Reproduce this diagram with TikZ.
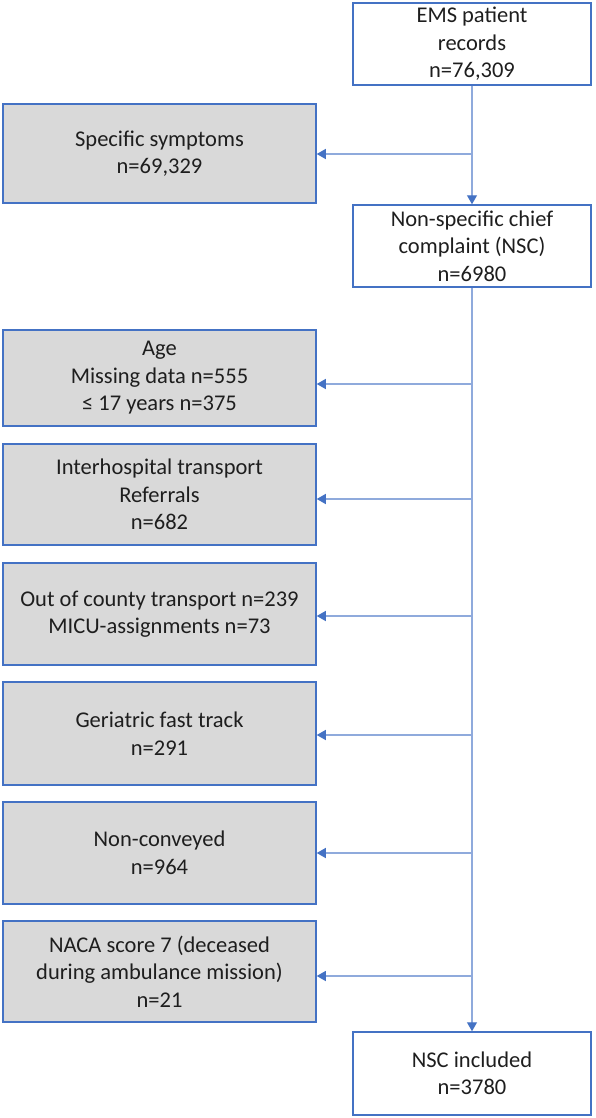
\documentclass[tikz,border=0pt]{standalone}
\usepackage{fontspec}
\setmainfont{Carlito}
\usetikzlibrary{arrows.meta}
\definecolor{boxblue}{RGB}{68,114,196}
\definecolor{lineblue}{RGB}{143,170,220}
\definecolor{boxgray}{RGB}{217,217,217}
\definecolor{textgray}{RGB}{30,30,30}
\tikzset{
	stagebox/.style={draw=boxblue, line width=1.5pt, align=center, inner sep=0pt,
		minimum width=238pt, text=textgray, font=\fontsize{22.5}{27.5}\selectfont},
	exclbox/.style={stagebox, fill=boxgray, minimum width=313pt},
	flow/.style={draw=lineblue, line width=1.2pt, -{Triangle[length=9pt,width=10pt,color=boxblue]}}
}
\begin{document}
\begin{tikzpicture}[x=1pt,y=-1pt]
	%
	\def\trunk{472}
	\def\exclx{159.5}
	\useasboundingbox (0,0) rectangle (596,1118);
	% main stages
		\node[stagebox, minimum height=82pt] (ems) at (\trunk,44) {EMS patient\\records\\n=76,309};
		\node[stagebox, minimum height=82pt] (nsc) at (\trunk,246) {Non-specific chief\\complaint (NSC)\\n=6980};
		\node[stagebox, minimum height=83pt] (incl) at (\trunk,1073.5) {NSC included\\n=3780};
	% exclusions
		\node[exclbox, minimum height=99pt] (spec) at (\exclx,153.5) {Specific symptoms\\n=69,329};
		\node[exclbox, minimum height=96pt] (age) at (\exclx,378) {Age\\Missing data n=555\\≤ 17 years n=375};
		\node[exclbox, minimum height=101pt] (inter) at (\exclx,494.5) {Interhospital transport\\Referrals\\n=682};
		\node[exclbox, minimum height=102pt] (county) at (\exclx,614) {Out of county transport n=239\\MICU-assignments n=73};
		\node[exclbox, minimum height=103pt] (geri) at (\exclx,733.5) {Geriatric fast track\\n=291};
		\node[exclbox, minimum height=102pt] (convey) at (\exclx,853) {Non-conveyed\\n=964};
		\node[exclbox, minimum height=101pt] (naca) at (\exclx,971.5) {NACA score 7 (deceased\\during ambulance mission)\\n=21};
	% trunk lines
		\draw[flow] (ems) -- (nsc);
		\draw[flow] (nsc) -- (incl);
	% branches
		\foreach \name/\y in {spec/154,age/384,inter/499,county/616,geri/735,convey/853,naca/976}
		{
			\coordinate (br-\name) at (\trunk,\y);
			\draw[flow] (br-\name) -- (br-\name -| \name.east);
		}
\end{tikzpicture}
\end{document}
